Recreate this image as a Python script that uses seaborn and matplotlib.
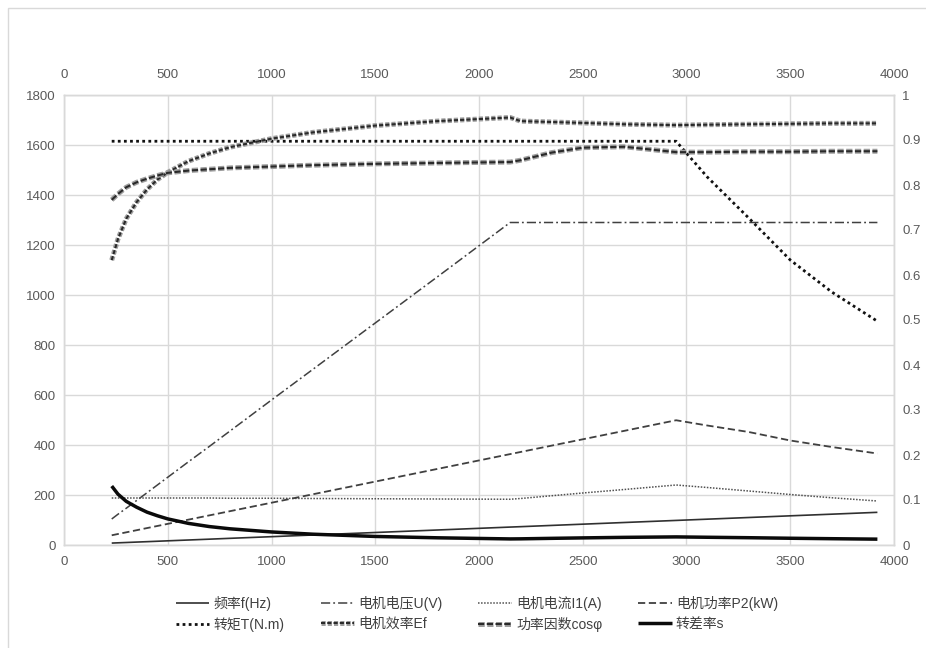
import matplotlib
matplotlib.use("Agg")
import matplotlib.pyplot as plt
import matplotlib.patheffects as pe
from matplotlib.patches import Rectangle
import seaborn as sns

# Motor speed (r/min) shared by every curve
speed = [230, 260, 300, 350, 400, 450, 500, 600, 700, 800, 1000, 1200, 1500, 1800,
         2150, 2200, 2350, 2500, 2700, 2950, 3100, 3300, 3500, 3700, 3920]

# Left-axis quantities
frequency = [7.7, 8.7, 10.0, 11.7, 13.3, 15.0, 16.7, 20.0, 23.3, 26.7, 33.3, 40.0, 50.0, 60.0,
             71.7, 73.3, 78.3, 83.3, 90.0, 98.3, 103.3, 110.0, 116.7, 123.3, 130.7]
voltage = [104, 123, 147, 178, 209, 240, 271, 333, 394, 456, 580, 703, 888, 1073,
           1290, 1290, 1290, 1290, 1290, 1290, 1290, 1290, 1290, 1290, 1290]
current = [188, 188, 188, 188, 188, 188, 188, 188, 188, 187, 187, 186, 185, 184,
           183, 186, 197, 208, 222, 240, 230, 216, 202, 189, 176]
power = [38.9, 44.0, 50.7, 59.2, 67.7, 76.1, 84.6, 101.5, 118.4, 135.3, 169.1, 203.0, 253.7, 304.4,
         363.6, 372.0, 397.5, 422.8, 456.6, 499.0, 478.0, 452.0, 418.0, 392.0, 366.0]
torque = [1615, 1615, 1615, 1615, 1615, 1615, 1615, 1615, 1615, 1615, 1615, 1615, 1615, 1615,
          1615, 1615, 1615, 1615, 1615, 1615, 1472, 1308, 1140, 1012, 895]

# Right-axis quantities
efficiency = [0.633, 0.680, 0.725, 0.762, 0.790, 0.812, 0.828, 0.853, 0.870, 0.884, 0.903, 0.917, 0.932, 0.942,
              0.950, 0.942, 0.940, 0.938, 0.935, 0.933, 0.934, 0.935, 0.936, 0.937, 0.937]
power_factor = [0.767, 0.780, 0.795, 0.806, 0.814, 0.821, 0.827, 0.832, 0.835, 0.838, 0.841, 0.844, 0.847, 0.849,
                0.851, 0.855, 0.872, 0.883, 0.885, 0.873, 0.873, 0.874, 0.874, 0.875, 0.875]
slip = [0.131, 0.113, 0.097, 0.084, 0.073, 0.065, 0.058, 0.048, 0.041, 0.036, 0.029, 0.024, 0.019, 0.016,
        0.0135, 0.0137, 0.0148, 0.0158, 0.0170, 0.0180, 0.0172, 0.0162, 0.0150, 0.0140, 0.0130]

labels = ["频率f(Hz)", "电机电压U(V)", "电机电流I1(A)", "电机功率P2(kW)",
          "转矩T(N.m)", "电机效率Ef", "功率因数cosφ", "转差率s"]

x_ticks = [0, 500, 1000, 1500, 2000, 2500, 3000, 3500, 4000]
left_ticks = [0, 200, 400, 600, 800, 1000, 1200, 1400, 1600, 1800]
right_ticks = [0, 0.1, 0.2, 0.3, 0.4, 0.5, 0.6, 0.7, 0.8, 0.9, 1.0]
right_tick_labels = ["0", "0.1", "0.2", "0.3", "0.4", "0.5", "0.6", "0.7", "0.8", "0.9", "1"]

sns.set_theme(style="white")
plt.rcParams["font.family"] = ["Liberation Sans", "Noto Sans CJK SC", "DejaVu Sans"]

GRID = "#d9d9d9"
TICK = "#595959"

fig = plt.figure(figsize=(9.26, 6.48), dpi=100)
fig.patch.set_facecolor("white")
ax = fig.add_axes([64 / 926, 1 - 545 / 648, (894 - 64) / 926, (545 - 95) / 648])
ax2 = ax.twinx()

# outer chart frame
fig.patches.append(Rectangle((8 / 926, -0.1), 1.2, 1 - 8 / 648 + 0.1, transform=fig.transFigure,
                             fill=False, edgecolor=GRID, linewidth=1.0))

def draw(axis, y, label, color, lw, ls, effects=None):
    sns.lineplot(x=speed, y=y, ax=axis, color=color, linewidth=lw, linestyle=ls,
                 label=label, sort=False, legend=False, path_effects=effects,
                 solid_capstyle="butt", dash_capstyle="butt")

# grey band with dark dashes running through it
banded = [pe.Stroke(linewidth=3.6, foreground="#9e9e9e"), pe.Normal()]

draw(ax, frequency, labels[0], "#303030", 1.2, "-")
draw(ax, voltage, labels[1], "#404040", 1.1, (0, (6, 2, 1.2, 2)))
draw(ax, current, labels[2], "#505050", 1.1, (0, (1, 1)))
draw(ax, power, labels[3], "#404040", 1.3, (0, (4, 2)))
draw(ax, torque, labels[4], "#111111", 2.0, (0, (1, 1.2)))
draw(ax2, efficiency, labels[5], "#2a2a2a", 1.5, (0, (2, 1)), banded)
draw(ax2, power_factor, labels[6], "#2a2a2a", 1.5, (0, (3, 1.2)), banded)
draw(ax2, slip, labels[7], "#0a0a0a", 2.5, "-")

ax.set_xlim(0, 4000)
ax.set_ylim(0, 1800)
ax2.set_ylim(0, 1)
ax.set_xticks(x_ticks)
ax.set_yticks(left_ticks)
ax2.set_yticks(right_ticks)
ax2.set_yticklabels(right_tick_labels)

ax.grid(True, color=GRID, linewidth=1.0)
ax.set_axisbelow(True)
for a in (ax, ax2):
    for s in a.spines.values():
        s.set_color(GRID)
        s.set_linewidth(1.0)
    a.set_xlabel("")
    a.set_ylabel("")

ax.tick_params(axis="x", length=0, pad=8, labelsize=9.5, labelcolor=TICK)
ax.tick_params(axis="y", length=0, pad=6, labelsize=9.5, labelcolor=TICK)
ax2.tick_params(axis="y", length=0, pad=6, labelsize=9.5, labelcolor=TICK)

top = ax.secondary_xaxis("top")
top.set_xticks(x_ticks)
top.tick_params(length=0, pad=10, labelsize=9.5, labelcolor=TICK)
top.spines["top"].set_visible(False)

# legend entries filled row by row: four per row
handles = ax.get_lines() + ax2.get_lines()
handles = [h for h in handles if h.get_label() in labels]
order = [0, 4, 1, 5, 2, 6, 3, 7]
fig.legend([handles[i] for i in order], [labels[i] for i in order],
           loc="center", bbox_to_anchor=(477 / 926, 1 - 614 / 648), ncol=4,
           frameon=False, fontsize=10, handlelength=2.4, handletextpad=0.3,
           columnspacing=2.6, labelspacing=0.45, labelcolor="#404040")

fig.savefig("out.png", dpi=100, facecolor="white")
